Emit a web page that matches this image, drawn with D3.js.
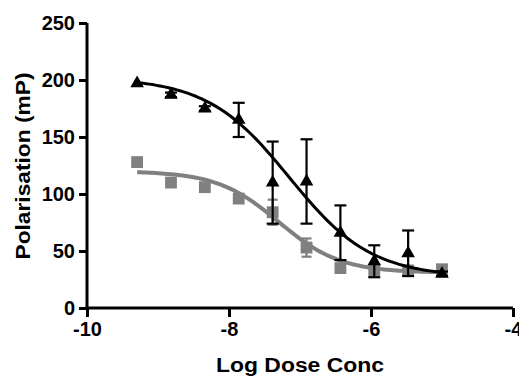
<!DOCTYPE html>
<html>
<head>
<meta charset="utf-8">
<script src="https://cdn.jsdelivr.net/npm/d3@7"></script>
<style>
  body { margin: 0; background: #fff; }
  text { font-family: "Liberation Sans", Arial, sans-serif; font-weight: bold; }
</style>
</head>
<body>
<div id="chart"></div>
<script>
// log dose (3-fold dilutions)
var logDose = [-9.294, -8.817, -8.340, -7.863, -7.385, -6.908, -6.431, -5.954, -5.477, -5.000];
// black triangles
var triMean = [197, 187, 175, 165, 110, 111, 66, 41, 48, 30];
var triErr  = [0, 2, 2, 15, 36, 37, 24, 14, 20, 2];
// grey squares
var sqMean = [128, 110, 106, 96, 84, 53, 35, 33, 33, 34];
var sqErr  = [0, 0, 0, 0, 11, 8, 3, 3, 3, 0];
// fitted sigmoid params (top, bottom, logEC50, hill)
var triFit = [202, 27, -7.15, 0.75];
var sqFit  = [120, 31, -7.3, 1.0];

var xTicks = [-10, -8, -6, -4];
var yTicks = [0, 50, 100, 150, 200, 250];

var margin = { top: 23, right: 6, bottom: 68, left: 87 },
    width = 519 - margin.left - margin.right,
    height = 376 - margin.top - margin.bottom;

var svg = d3.select("#chart")
    .append("svg")
    .attr("width", 519)
    .attr("height", 376)
    .append("g")
    .attr("transform", "translate(" + margin.left + "," + margin.top + ")");

var x = d3.scaleLinear().domain([-10, -4]).range([0, 426]);
var y = d3.scaleLinear().domain([0, 250]).range([285, 0]);

function fit(p, v) {
    return p[1] + (p[0] - p[1]) / (1 + Math.pow(10, (v - p[2]) * p[3]));
}

var curveX = d3.range(0, 101).map(function (i) {
    return logDose[0] + (logDose[logDose.length - 1] - logDose[0]) * i / 100;
});

var line = d3.line()
    .x(function (d) { return x(d[0]); })
    .y(function (d) { return y(d[1]); });

function drawSeries(mean, err, p, color, lw, sym, size, cap) {
    svg.append("path")
        .datum(curveX.map(function (v) { return [v, fit(p, v)]; }))
        .attr("d", line)
        .attr("fill", "none")
        .attr("stroke", color)
        .attr("stroke-width", lw);

    var eb = svg.append("g");
    logDose.forEach(function (d, i) {
        if (!err[i]) return;
        var cx = x(d), t = y(mean[i] + err[i]), b = y(mean[i] - err[i]);
        eb.append("line").attr("x1", cx).attr("x2", cx).attr("y1", t).attr("y2", b);
        eb.append("line").attr("x1", cx - cap).attr("x2", cx + cap).attr("y1", t).attr("y2", t);
        eb.append("line").attr("x1", cx - cap).attr("x2", cx + cap).attr("y1", b).attr("y2", b);
    });
    eb.selectAll("line").attr("stroke", color).attr("stroke-width", 2.2);

    svg.append("g").selectAll("path")
        .data(logDose)
        .enter()
        .append("path")
        .attr("d", d3.symbol().type(sym).size(size))
        .attr("transform", function (d, i) { return "translate(" + x(d) + "," + y(mean[i]) + ")"; })
        .attr("fill", color);
}

drawSeries(sqMean, sqErr, sqFit, "#808080", 4, d3.symbolSquare, 140, 5);
drawSeries(triMean, triErr, triFit, "#000", 3, d3.symbolTriangle, 80, 6);

// axes
var xAxis = svg.append("g")
    .attr("transform", "translate(0," + 285 + ")")
    .call(d3.axisBottom(x).tickValues(xTicks).tickFormat(function (d) { return String(d); })
        .tickSize(9).tickSizeOuter(0).tickPadding(5));
var yAxis = svg.append("g")
    .call(d3.axisLeft(y).tickValues(yTicks).tickFormat(function (d) { return String(d); })
        .tickSize(8).tickSizeOuter(0).tickPadding(4));

[xAxis, yAxis].forEach(function (a) {
    a.selectAll("path, line").attr("stroke", "#000").attr("stroke-width", 3);
    a.selectAll("text")
        .attr("fill", "#000")
        .style("font-size", "20px")
        .style("font-family", "'Liberation Sans', Arial, sans-serif")
        .style("font-weight", "bold");
});
xAxis.select(".domain").attr("d", "M-1.5,0H426");
yAxis.select(".domain").attr("d", "M0,0V286.5");

svg.append("text")
    .attr("x", 213)
    .attr("y", 349)
    .attr("text-anchor", "middle")
    .attr("textLength", 168)
    .attr("lengthAdjust", "spacingAndGlyphs")
    .style("font-size", "20px")
    .text("Log Dose Conc");

svg.append("text")
    .attr("transform", "translate(-57," + 143 + ") rotate(-90)")
    .attr("text-anchor", "middle")
    .attr("textLength", 187)
    .attr("lengthAdjust", "spacingAndGlyphs")
    .style("font-size", "20px")
    .text("Polarisation (mP)");
</script>
</body>
</html>
